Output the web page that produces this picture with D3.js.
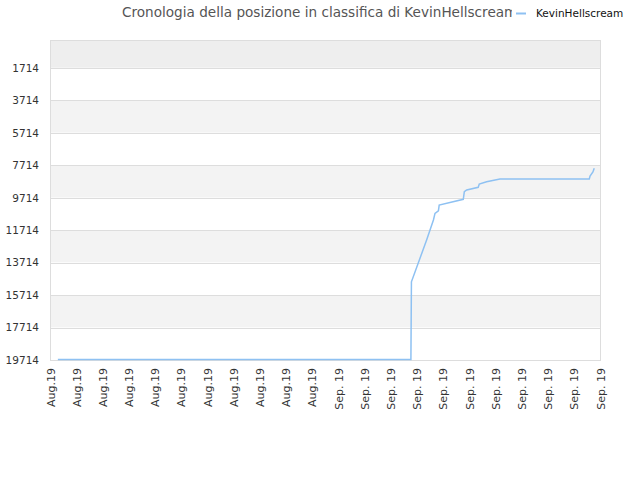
<!DOCTYPE html>
<html>
<head>
<meta charset="utf-8">
<script src="https://cdn.jsdelivr.net/npm/d3@7"></script>
<style>
  body { margin: 0; background: #fff; }
  text { font-family: "DejaVu Sans", sans-serif; }
</style>
</head>
<body>
<div id="chart"></div>
<script>
// tick labels along the x axis
let xLabels = ['Aug.19', 'Aug.19', 'Aug.19', 'Aug.19', 'Aug.19', 'Aug.19', 'Aug.19', 'Aug.19', 'Aug.19', 'Aug.19', 'Aug.19',
    'Sep. 19', 'Sep. 19', 'Sep. 19', 'Sep. 19', 'Sep. 19', 'Sep. 19', 'Sep. 19', 'Sep. 19', 'Sep. 19', 'Sep. 19', 'Sep. 19'];
let yTicks = [1714, 3714, 5714, 7714, 9714, 11714, 13714, 15714, 17714, 19714];

// ranking history (x in tick units)
let posX = [0.30, 13.78, 13.80, 14.38, 14.64, 14.70, 14.83, 14.86, 15.78, 15.82, 15.91, 16.35, 16.39, 16.67, 17.18, 20.59, 20.62, 20.73, 20.78];
let posRank = [19690, 19690, 14900, 12320, 11090, 10680, 10520, 10170, 9815, 9350, 9240, 9075, 8870, 8730, 8560, 8560, 8380, 8130, 7905];

let svgWidth = 640;
let svgHeight = 480;
let margin = { top: 40, right: 40, bottom: 120, left: 50 };
let width = svgWidth - margin.left - margin.right;
let height = svgHeight - margin.top - margin.bottom;

let svg = d3.select('#chart').append('svg')
    .attr('width', svgWidth)
    .attr('height', svgHeight);

let chartGroup = svg.append('g')
    .attr('transform', `translate(${margin.left}, ${margin.top})`);

let xScale = d3.scaleLinear().domain([0, xLabels.length - 1]).range([0, width]);
let yScale = d3.scaleLinear().domain([0, 19714]).range([0, height]);

// alternating bands
let bandEdges = [0].concat(yTicks);
chartGroup.selectAll('rect.band')
    .data(d3.pairs(bandEdges))
    .enter().append('rect')
    .attr('x', 0)
    .attr('width', width)
    .attr('y', d => yScale(d[0]))
    .attr('height', d => yScale(d[1]) - yScale(d[0]))
    .attr('fill', (d, i) => i === 0 ? '#eeeeee' : (i % 2 === 0 ? '#f3f3f3' : '#ffffff'));

// grid lines
chartGroup.selectAll('line.grid')
    .data(yTicks)
    .enter().append('line')
    .attr('x1', 0).attr('x2', width)
    .attr('y1', d => Math.round(yScale(d)) + 0.5)
    .attr('y2', d => Math.round(yScale(d)) + 0.5)
    .attr('stroke', '#dddddd');

chartGroup.append('rect')
    .attr('x', 0.5).attr('y', 0.5)
    .attr('width', width).attr('height', height)
    .attr('fill', 'none')
    .attr('stroke', '#dddddd');

// y axis labels
let leftAxis = d3.axisLeft(yScale).tickValues(yTicks).tickSize(0).tickPadding(11).tickFormat(d3.format('d'));
let yAxis = chartGroup.append('g').call(leftAxis);
yAxis.select('.domain').remove();
yAxis.selectAll('text').attr('fill', '#333').style('font-size', '10.5px');

// x axis labels
let bottomAxis = d3.axisBottom(xScale)
    .tickValues(d3.range(xLabels.length))
    .tickSize(0)
    .tickFormat(i => xLabels[i]);
let xAxis = chartGroup.append('g')
    .attr('transform', `translate(0, ${height})`)
    .call(bottomAxis);
xAxis.select('.domain').remove();
xAxis.selectAll('text')
    .attr('fill', '#333')
    .style('font-size', '11px')
    .attr('text-anchor', 'end')
    .attr('dy', null)
    .attr('y', 0)
    .attr('transform', 'translate(4, 8) rotate(-90)');

// line
let line = d3.line()
    .x((d, i) => xScale(posX[i]))
    .y(d => yScale(d));
chartGroup.append('path')
    .datum(posRank)
    .attr('d', line)
    .attr('fill', 'none')
    .attr('stroke', '#8ec1f2')
    .attr('stroke-width', 1.5);

// title
svg.append('text')
    .attr('x', 122).attr('y', 17)
    .attr('fill', '#555')
    .style('font-size', '13.6px')
    .text('Cronologia della posizione in classifica di KevinHellscream');

// legend
let legend = svg.append('g');
legend.append('rect')
    .attr('x', 512).attr('y', 0).attr('width', 128).attr('height', 24)
    .attr('fill', '#fff');
legend.append('line')
    .attr('x1', 516).attr('x2', 526).attr('y1', 13.5).attr('y2', 13.5)
    .attr('stroke', '#8ec1f2').attr('stroke-width', 2);
legend.append('text')
    .attr('x', 536).attr('y', 16.5)
    .attr('fill', '#111')
    .style('font-size', '10.5px')
    .text('KevinHellscream');
</script>
</body>
</html>
